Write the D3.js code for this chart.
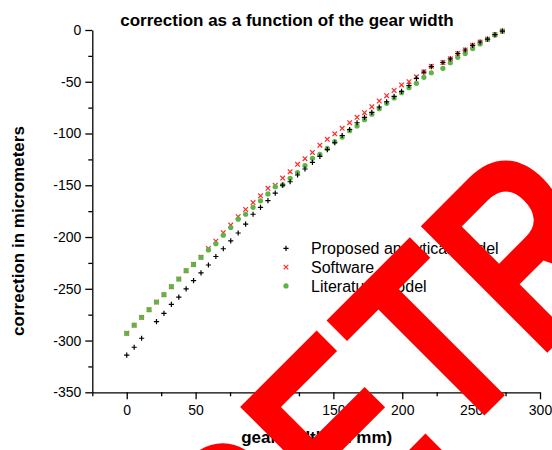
<!DOCTYPE html>
<html>
<head>
<meta charset="utf-8">
<script src="https://cdn.jsdelivr.net/npm/d3@7"></script>
<style>
  html, body { margin: 0; padding: 0; background: #fff; }
  svg { display: block; }
  text { font-family: "Liberation Sans", Arial, sans-serif; }
</style>
</head>
<body>
<svg id="chart" width="552" height="450"></svg>
<script>
// ---- data ----
const gearWidth = [0, 5.4, 10.8, 16.2, 21.6, 27, 32.4, 37.8, 43.1, 48.5, 53.9, 59.3, 64.7, 70.1, 75.5,
  80.9, 86.3, 91.7, 97.1, 102.5, 107.8, 113.2, 118.6, 124, 129.4, 134.8, 140.2, 145.6, 151, 156.4,
  161.8, 167.2, 172.6, 177.9, 183.3, 188.7, 194.1, 199.5, 204.9, 210.3, 215.7, 221.1,
  229.5, 234.9, 240.3, 245.7, 251.1, 256.5, 261.9, 267.3, 272.7];

const proposedModel = [-314.0, -306.5, -297.8, null, -281.8, -273.7, -265.0, -258.1, -250.0, -242.2,
  -234.6, -227.0, -218.8, -211.3, -203.7, -196.1, -187.6, -178.0, -171.3, -164.9,
  -157.5, -149.9, -146.6, -140.1, -134.3, -127.8, -122.0, -115.6, -108.9, -101.9,
  -96.1, -89.6, -84.5, -79.5, -74.4, -69.3, -64.2, -59.2, -53.6, -46.7,
  -40.6, -35.3, -31.4, -27.8, -22.7, -19.3, -14.8, -11.6, -8.9, -4.5, -1.0];

const softwareValues = [-293.0, -285.2, -277.6, -270.2, -262.8, -255.7, -248.0, -240.6, -232.5, -226.5,
  -219.6, -211.1, -204.0, -195.8, -188.4, -180.4, -173.4, -166.7, -160.2, -152.9,
  -150.0, -143.0, -136.9, -129.7, -124.3, -118.3, -111.3, -105.6, -100.3, -95.0,
  -89.6, -84.3, -79.9, -74.1, -68.6, -63.5, -58.4, -53.1, -49.9, -45.2,
  -40.4, -35.1, -31.4, -27.8, -22.7, -19.3, -14.8, -11.6, -8.9, -4.5, -1.0];

const literatureModel = [-293.0, -285.2, -277.6, -270.2, -262.8, -255.7, -248.0, -240.6, -232.5, -226.5,
  -219.6, -212.5, -206.5, -198.3, -190.8, -182.8, -178.0, -171.3, -165.0, -158.4,
  -151.4, -149.7, -143.3, -137.7, -131.1, -124.0, -120.1, -114.3, -107.9, -103.4,
  -97.3, -92.7, -86.7, -81.3, -76.1, -70.8, -65.7, -60.6, -55.7, -51.5,
  -45.7, -41.3, -37.0, -31.6, -26.4, -22.7, -17.9, -13.5, -9.0, -4.8, -1.0];

const seriesNames = ["Proposed analytical model", "Software", "Literature model"];
const xMajorTicks = [0, 50, 100, 150, 200, 250, 300];
const xMinorTicks = [-25, 25, 75, 125, 175, 225, 275];
const yMajorTicks = [0, -50, -100, -150, -200, -250, -300, -350];
const yMinorTicks = [-25, -75, -125, -175, -225, -275, -325];

const titleText = "correction as a function of the gear width";
const xLabel = "gear width (in mm)";
const yLabel = "correction in micrometers";
const stampText = "RETRACTED";

// ---- drawing ----
(function () {
const svg = d3.select("#chart");
const pLeft = 92.3, pRight = 540, pTop = 30, pBottom = 392.3;
const x = d3.scaleLinear().domain([-25, 300]).range([pLeft, pRight]);
const y = d3.scaleLinear().domain([-350, 0]).range([pBottom, pTop]);

const fmt = d => String(d);

// x axis
const gx = svg.append("g").attr("transform", `translate(0,${pBottom})`);
gx.call(d3.axisBottom(x).tickValues(xMajorTicks).tickFormat(fmt).tickSize(7).tickSizeOuter(0).tickPadding(6));
const gxm = svg.append("g").attr("transform", `translate(0,${pBottom})`);
gxm.call(d3.axisBottom(x).tickValues(xMinorTicks).tickFormat("").tickSize(4).tickSizeOuter(0));
gxm.select(".domain").remove();

// y axis
const gy = svg.append("g").attr("transform", `translate(${pLeft},0)`);
gy.call(d3.axisLeft(y).tickValues(yMajorTicks).tickFormat(fmt).tickSize(7).tickSizeOuter(0).tickPadding(4));
const gym = svg.append("g").attr("transform", `translate(${pLeft},0)`);
gym.call(d3.axisLeft(y).tickValues(yMinorTicks).tickFormat("").tickSize(4).tickSizeOuter(0));
gym.select(".domain").remove();

svg.selectAll(".domain, .tick line").attr("stroke", "#000").attr("stroke-width", 1.3);
svg.selectAll(".tick text").attr("font-size", 14).attr("fill", "#000")
  .attr("font-family", "'Liberation Sans', Arial, sans-serif");

// labels
svg.append("text").attr("x", 287).attr("y", 26).attr("text-anchor", "middle")
  .attr("font-size", 17).attr("font-weight", "bold").text(titleText);
svg.append("text").attr("x", 316.7).attr("y", 443).attr("text-anchor", "middle")
  .attr("font-size", 17).attr("font-weight", "bold").text(xLabel);
svg.append("text").attr("transform", "translate(23.5,231) rotate(-90)").attr("text-anchor", "middle")
  .attr("font-size", 17).attr("font-weight", "bold").text(yLabel);

const redC = "#ff2a2a", greenC = "#5cb546";
const sym = {
  plus: (g, cx, cy) => g.append("path").attr("d", `M${cx-2.6},${cy}H${cx+2.6}M${cx},${cy-2.6}V${cy+2.6}`)
    .attr("stroke", "#000").attr("stroke-width", 1.2).attr("fill", "none"),
  cross: (g, cx, cy) => g.append("path").attr("d", `M${cx-2.3},${cy-2.3}L${cx+2.3},${cy+2.3}M${cx-2.3},${cy+2.3}L${cx+2.3},${cy-2.3}`)
    .attr("stroke", redC).attr("stroke-width", 1.2).attr("fill", "none"),
  dot: (g, cx, cy) => g.append("circle").attr("cx", cx).attr("cy", cy).attr("r", 2.6).attr("fill", greenC)
};

const marks = svg.append("g");
const rows = gearWidth.map((g, i) => ({ g, p: proposedModel[i], s: softwareValues[i], l: literatureModel[i] }));
rows.forEach(r => { if (r.s != null) sym.cross(marks, x(r.g), y(r.s)); });
rows.forEach(r => { if (r.l != null) sym.dot(marks, x(r.g), y(r.l)); });
rows.forEach(r => { if (r.p != null) sym.plus(marks, x(r.g), y(r.p)); });

// legend
const legend = svg.append("g");
const legY = [248.3, 267.1, 285.9];
sym.plus(legend, 286, legY[0]);
sym.cross(legend, 286, legY[1]);
sym.dot(legend, 286, legY[2]);
seriesNames.forEach((n, i) => {
  legend.append("text").attr("x", 311).attr("y", legY[i] + 5.8).attr("font-size", 16).attr("fill", "#000").text(n);
});

// retraction stamp
svg.append("text").attr("transform", "translate(255,645) rotate(-45) scale(1,1.3)")
  .attr("font-size", 200).attr("font-weight", "bold").attr("fill", "#ff0000").text(stampText);
})();
</script>
</body>
</html>
